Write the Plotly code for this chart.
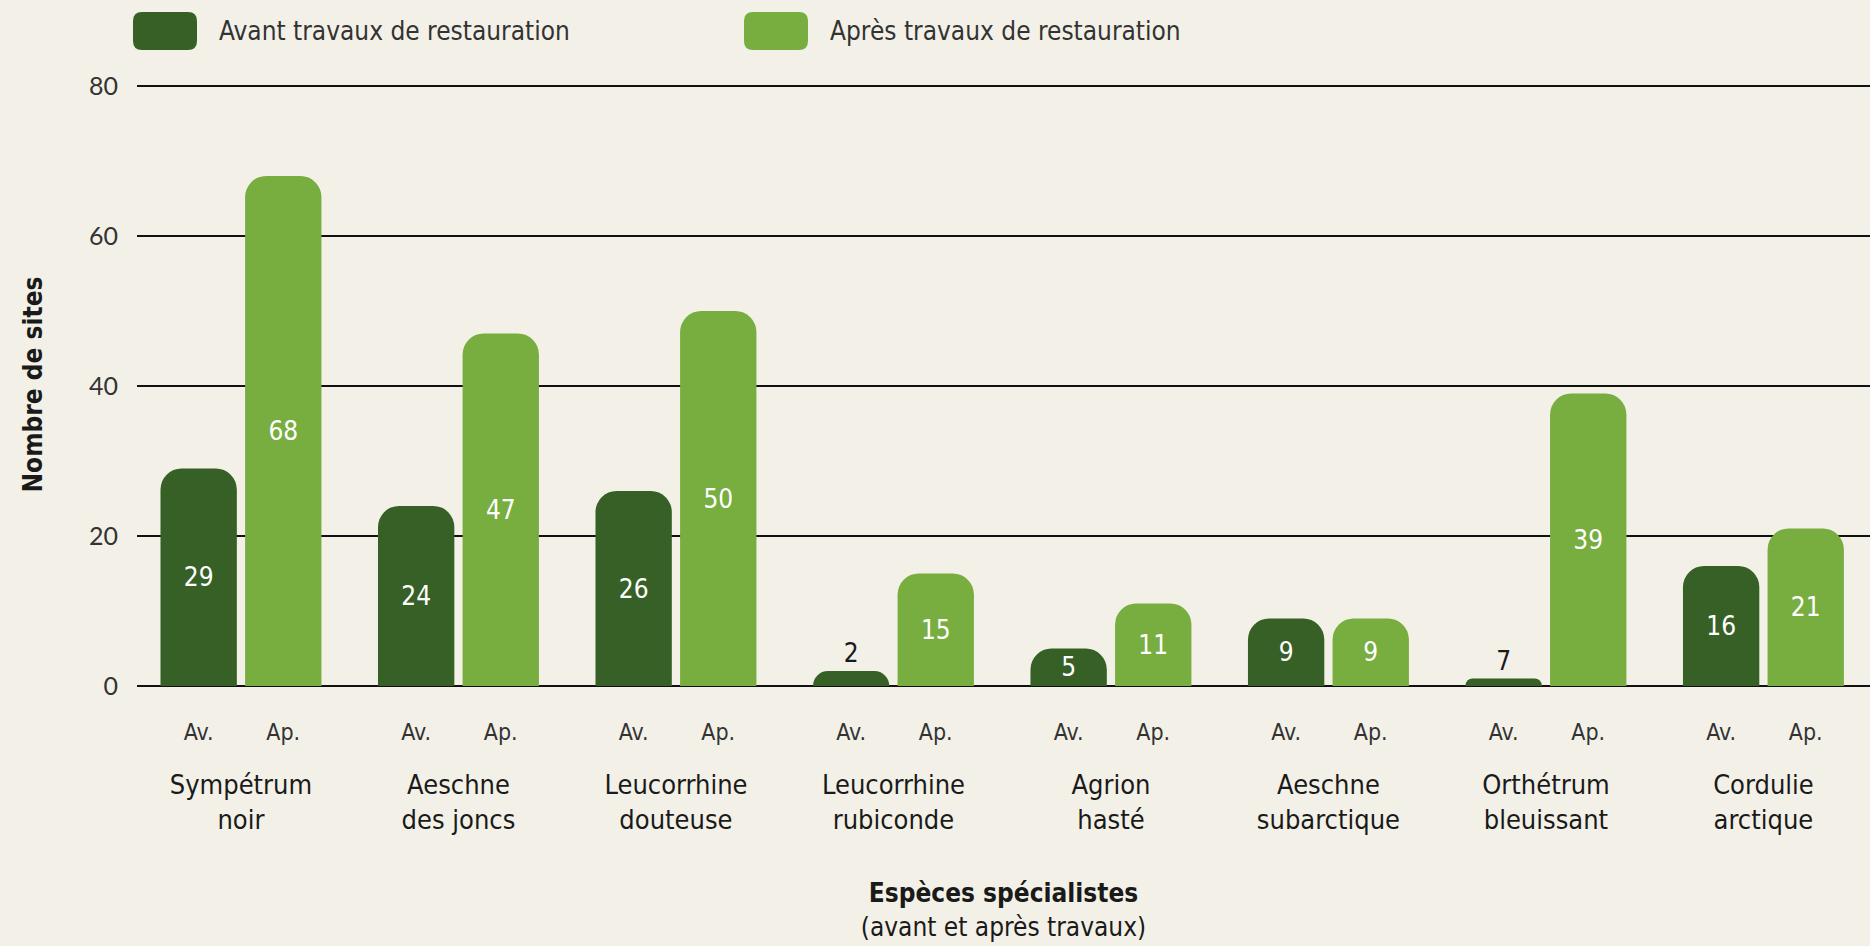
import plotly.graph_objects as go

# ---------------- data ----------------
species = ["Sympétrum<br>noir", "Aeschne<br>des joncs", "Leucorrhine<br>douteuse",
           "Leucorrhine<br>rubiconde", "Agrion<br>hasté", "Aeschne<br>subarctique",
           "Orthétrum<br>bleuissant", "Cordulie<br>arctique"]
# bar heights as drawn in the picture
avant = [29, 24, 26, 2, 5, 9, 1, 16]
apres = [68, 47, 50, 15, 11, 9, 39, 21]
# value labels as printed in the picture
avant_labels = ["29", "24", "26", "2", "5", "9", "7", "16"]
apres_labels = ["68", "47", "50", "15", "11", "9", "39", "21"]
series_names = ["Avant travaux de restauration", "Après travaux de restauration"]
short_labels = ["Av.", "Ap."]
y_ticks = [0, 20, 40, 60, 80]

# ---------------- style ----------------
W, H = 1870, 946
ML, MR, MT, MB = 137, 0, 83, 260
BG = "#F3F1E7"
DARK = "#376027"
LIGHT = "#78AD3F"
INK = "#1a1a1a"
FONT = "Liberation Sans Narrow, DejaVu Sans Condensed, Roboto, sans-serif"
TICKFONT = "Lato, Open Sans, sans-serif"
BAR_W = 0.351
GAP = 0.038
OFF_AV = -(BAR_W + GAP / 2)
OFF_AP = GAP / 2

idx = list(range(len(species)))


def positions(vals):
    return ["inside" if v >= 4 else "outside" for v in vals]


fig = go.Figure()
for vals, labels, off, col in [(avant, avant_labels, OFF_AV, DARK),
                               (apres, apres_labels, OFF_AP, LIGHT)]:
    fig.add_trace(go.Bar(
        x=idx, y=vals, width=BAR_W, offset=off,
        marker=dict(color=col, cornerradius=21, line=dict(width=0)),
        text=labels, textposition=positions(vals), insidetextanchor="middle",
        textangle=0, constraintext="none", cliponaxis=False,
        insidetextfont=dict(family=FONT, size=26, color="white"),
        outsidetextfont=dict(family=FONT, size=26, color=INK),
        showlegend=False, hoverinfo="skip",
    ))

# secondary axis carrying the Av./Ap. labels under each bar
sub_vals, sub_text = [], []
for i in idx:
    sub_vals += [i + OFF_AV + BAR_W / 2, i + OFF_AP + BAR_W / 2]
    sub_text += short_labels
fig.add_trace(go.Scatter(x=sub_vals, y=[0] * len(sub_vals), xaxis="x2", mode="none",
                         showlegend=False, hoverinfo="skip"))

xr = [-0.478, 7.49]
fig.update_layout(
    width=W, height=H, autosize=False,
    margin=dict(l=ML, r=MR, t=MT, b=MB, pad=0),
    paper_bgcolor=BG, plot_bgcolor=BG,
    font=dict(family=FONT, color=INK),
    xaxis=dict(range=xr, tickvals=idx, ticktext=species, showgrid=False, zeroline=False,
               showline=False, ticks="", ticklabelstandoff=80,
               tickfont=dict(family=FONT, size=27, color=INK),
               title=dict(text="<b>Espèces spécialistes</b><br>(avant et après travaux)",
                          font=dict(family=FONT, size=26, color=INK), standoff=49)),
    xaxis2=dict(range=xr, overlaying="x", anchor="y", side="bottom", tickvals=sub_vals,
                ticktext=sub_text, showgrid=False, zeroline=False, showline=False, ticks="",
                ticklabelstandoff=30, tickfont=dict(family=FONT, size=23, color="#333333")),
    yaxis=dict(range=[0, 80.4], tickvals=y_ticks, showgrid=True, gridcolor="#111111",
               gridwidth=2, zeroline=True, zerolinecolor="#111111", zerolinewidth=2,
               showline=False, ticks="", ticklabelstandoff=18,
               tickfont=dict(family=TICKFONT, size=25, color="#333333"),
               title=dict(text="<b>Nombre de sites</b>",
                          font=dict(family=FONT, size=26, color=INK), standoff=38)),
)


# ---------------- legend (drawn manually with big rounded swatches) ----------------
def to_paper(px, py):
    return (px - ML) / (W - ML - MR), (H - MB - py) / (H - MT - MB)


def rounded_rect(x0, y0, x1, y1, r):
    def P(px, py):
        a, b = to_paper(px, py)
        return f"{a:.5f},{b:.5f}"
    return (f"M{P(x0 + r, y0)} L{P(x1 - r, y0)} Q{P(x1, y0)} {P(x1, y0 + r)} "
            f"L{P(x1, y1 - r)} Q{P(x1, y1)} {P(x1 - r, y1)} L{P(x0 + r, y1)} "
            f"Q{P(x0, y1)} {P(x0, y1 - r)} L{P(x0, y0 + r)} Q{P(x0, y0)} {P(x0 + r, y0)} Z")


legend_items = [(133, 197, 217, DARK, series_names[0]), (744, 808, 828, LIGHT, series_names[1])]
for sx0, sx1, tx, col, name in legend_items:
    fig.add_shape(type="path", path=rounded_rect(sx0, 12, sx1, 50, 9), xref="paper", yref="paper",
                  fillcolor=col, line=dict(width=0), layer="above")
    ax, ay = to_paper(tx, 31)
    fig.add_annotation(x=ax, y=ay, xref="paper", yref="paper", text=name, showarrow=False,
                       xanchor="left", yanchor="middle",
                       font=dict(family=FONT, size=26, color="#333333"))

fig.write_html("out.html", config={"displayModeBar": False},
               post_script="document.body.style.margin='0';document.body.style.background='" + BG + "';")
